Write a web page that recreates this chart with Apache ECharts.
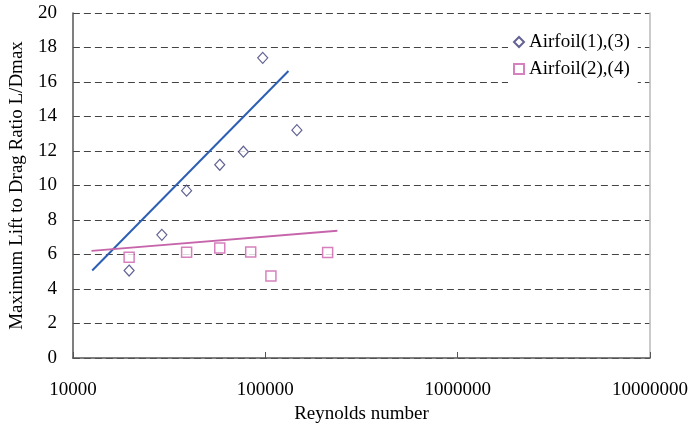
<!DOCTYPE html>
<html>
<head>
<meta charset="utf-8">
<script src="https://cdn.jsdelivr.net/npm/echarts@6/dist/echarts.min.js"></script>
<style>
  html, body { margin: 0; padding: 0; background: #fff; }
  #chart { width: 691px; height: 429px; }
</style>
</head>
<body>
<div id="chart"></div>
<script>
// Reynolds number vs. maximum lift-to-drag ratio for two airfoil groups
const airfoil13Re = [19600, 29000, 39000, 58000, 77000, 97000, 146000];
const airfoil13LD = [5.07, 7.14, 9.70, 11.20, 11.96, 17.40, 13.21];

const airfoil24Re = [19600, 39000, 58000, 84000, 107000, 211000];
const airfoil24LD = [5.84, 6.13, 6.37, 6.15, 4.76, 6.11];

// Trend lines (start and end points)
const trend13Re = [12600, 132000];
const trend13LD = [5.07, 16.64];
const trend24Re = [12500, 237000];
const trend24LD = [6.21, 7.38];

const xTicks = [10000, 100000, 1000000, 10000000];
const seriesNames = ['Airfoil(1),(3)', 'Airfoil(2),(4)'];

const zip = (xs, ys) => xs.map((x, i) => [x, ys[i]]);
const serif = 'Liberation Serif';

const chart = echarts.init(document.getElementById('chart'));
chart.setOption({
  animation: false,
  backgroundColor: '#fff',
  textStyle: { fontFamily: serif, color: '#000' },
  grid: { left: 68, right: 41, top: 13, bottom: 71 },
  legend: {
    data: seriesNames,
    orient: 'vertical',
    left: 508,
    top: 27,
    padding: [5, 8, 5, 5],
    itemGap: 7,
    itemWidth: 10,
    itemHeight: 10,
    backgroundColor: '#fff',
    textStyle: { fontFamily: serif, fontSize: 19, color: '#000', lineHeight: 20 }
  },
  xAxis: {
    type: 'log',
    logBase: 10,
    min: xTicks[0],
    max: xTicks[xTicks.length - 1],
    name: 'Reynolds number',
    nameLocation: 'middle',
    nameGap: 47,
    nameTextStyle: { fontFamily: serif, fontSize: 19, color: '#000' },
    axisLine: { lineStyle: { color: '#555', width: 1.5 } },
    axisTick: { inside: true, length: 6, lineStyle: { color: '#555' } },
    axisLabel: {
      fontFamily: serif, fontSize: 19, color: '#000', margin: 23,
      formatter: v => String(Math.round(v))
    },
    splitLine: { show: false },
    minorTick: { show: false }
  },
  yAxis: [{
    type: 'value',
    min: 0,
    max: 20,
    interval: 2,
    name: 'Maximum Lift to Drag Ratio L/Dmax',
    nameLocation: 'middle',
    nameGap: 40,
    nameTextStyle: { fontFamily: serif, fontSize: 19, color: '#000' },
    axisLine: { show: true, lineStyle: { color: '#555', width: 1.5 } },
    axisTick: { show: false },
    axisLabel: { fontFamily: serif, fontSize: 19, color: '#000', margin: 16 },
    splitLine: { show: true, lineStyle: { color: '#444', width: 1, type: [7, 4] } }
  }, {
    type: 'value',
    position: 'right',
    min: 0,
    max: 20,
    interval: 2,
    axisLine: { show: true, lineStyle: { color: '#b8b8b8', width: 1.5 } },
    axisTick: { show: false },
    axisLabel: { show: false },
    splitLine: { show: false }
  }],
  series: [
    {
      name: seriesNames[0],
      type: 'scatter',
      symbol: 'diamond',
      symbolSize: [10, 11],
      data: zip(airfoil13Re, airfoil13LD),
      itemStyle: { color: '#fff', borderColor: '#3b3b78', borderWidth: 1.2 },
      z: 5
    },
    {
      name: seriesNames[1],
      type: 'scatter',
      symbol: 'rect',
      symbolSize: 10,
      data: zip(airfoil24Re, airfoil24LD),
      itemStyle: { color: '#fff', borderColor: '#cc62ac', borderWidth: 1.5 },
      z: 5
    },
    {
      name: 'trend13',
      type: 'line',
      data: zip(trend13Re, trend13LD),
      symbol: 'none',
      lineStyle: { color: '#2c5fb4', width: 2 },
      z: 4
    },
    {
      name: 'trend24',
      type: 'line',
      data: zip(trend24Re, trend24LD),
      symbol: 'none',
      lineStyle: { color: '#c765ab', width: 2 },
      z: 4
    }
  ]
});
</script>
</body>
</html>
